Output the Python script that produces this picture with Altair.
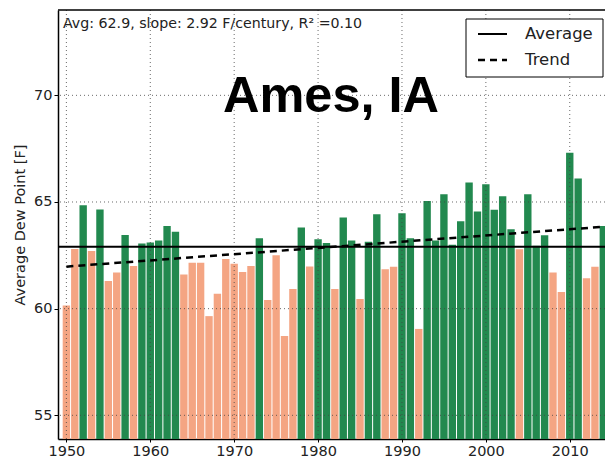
import altair as alt
import pandas as pd

years = list(range(1950, 2015))
dew_points = [
    60.15, 62.80, 64.85, 62.70, 64.65, 61.30, 61.70, 63.45, 62.00, 63.05,
    63.10, 63.20, 63.88, 63.60, 61.60, 62.15, 62.15, 59.65, 60.70, 62.33,
    62.10, 61.72, 62.00, 63.30, 60.40, 62.50, 58.72, 60.92, 63.80, 61.98,
    63.25, 63.08, 60.92, 64.27, 63.20, 60.45, 63.14, 64.42, 61.85, 61.96,
    64.47, 63.30, 59.05, 65.05, 63.20, 65.36, 63.00, 64.10, 65.91, 64.56,
    65.83, 64.64, 65.27, 63.72, 62.78, 65.36, 62.95, 63.44, 61.69, 60.78,
    67.31, 66.10, 61.42, 61.96, 63.88,
]
average = 62.9
trend_years = [1950, 2014]
trend_values = [61.97, 63.84]
x_ticks = [1950, 1960, 1970, 1980, 1990, 2000, 2010]
y_ticks = [55, 60, 65, 70]
x_domain = [1949, 2014.2]
y_domain = [53.89, 74.0]

GREEN = "#22894f"
SALMON = "#f4a583"

df = pd.DataFrame({"year": years, "value": dew_points})
df["x1"] = df["year"] - 0.44
df["x2"] = df["year"] + 0.44
df["base"] = y_domain[0]
df["cat"] = ["above" if v >= average else "below" for v in df["value"]]

xs = alt.Scale(domain=x_domain, nice=False, zero=False)
ys = alt.Scale(domain=y_domain, nice=False, zero=False)

bars = alt.Chart(df).mark_bar(clip=True).encode(
    x=alt.X("x1:Q", scale=xs,
            axis=alt.Axis(values=x_ticks, format="d", title=None, grid=False,
                          labelFontSize=14.5, labelColor="#222", tickSize=3,
                          labelPadding=2, domainColor="black", domainWidth=1.5,
                          tickColor="black", labelFont="DejaVu Sans")),
    x2="x2:Q",
    y=alt.Y("value:Q", scale=ys,
            axis=alt.Axis(values=y_ticks, title="Average Dew Point [F]", grid=False,
                          labelFontSize=14.5, labelColor="#222", tickSize=4,
                          labelPadding=2, titleFontSize=14.5, titleFontWeight="normal",
                          titleColor="#222", titlePadding=6, domainColor="black",
                          domainWidth=1.5, tickColor="black", labelFont="DejaVu Sans",
                          titleFont="DejaVu Sans")),
    y2="base:Q",
    color=alt.Color("cat:N", scale=alt.Scale(domain=["above", "below"], range=[GREEN, SALMON]),
                    legend=None),
)

gx = alt.Chart(pd.DataFrame({"t": x_ticks})).mark_rule(
    strokeDash=[1, 3], color="#444", strokeWidth=0.8).encode(
    x=alt.X("t:Q", scale=xs))
gy = alt.Chart(pd.DataFrame({"t": y_ticks})).mark_rule(
    strokeDash=[1, 3], color="#444", strokeWidth=0.8).encode(
    y=alt.Y("t:Q", scale=ys))

top_border = alt.Chart(pd.DataFrame({"k": [1]})).mark_rule(
    color="black", strokeWidth=1.5).encode(
    x=alt.value(0), x2=alt.value(547), y=alt.value(0))

avg_rule = alt.Chart(pd.DataFrame({"a": [average]})).mark_rule(
    color="black", strokeWidth=2).encode(y=alt.Y("a:Q", scale=ys))

trend = alt.Chart(pd.DataFrame({"year": trend_years, "v": trend_values})).mark_line(
    color="black", strokeWidth=2.5, strokeDash=[7, 5]).encode(
    x=alt.X("year:Q", scale=xs), y=alt.Y("v:Q", scale=ys))

title_txt = alt.Chart(pd.DataFrame({"t": ["Ames, IA"]})).mark_text(
    font="Liberation Sans", fontWeight="bold", fontSize=50.5, align="center",
    baseline="alphabetic", color="black").encode(
    text="t:N", x=alt.value(273), y=alt.value(102))

info_txt = alt.Chart(pd.DataFrame({"t": ["Avg: 62.9, slope: 2.92 F/century, R\u00b2 =0.10"]})).mark_text(
    font="DejaVu Sans", fontSize=14.2, align="left", baseline="middle", color="#222").encode(
    text="t:N", x=alt.value(5), y=alt.value(14))

leg_box = alt.Chart(pd.DataFrame({"k": [1]})).mark_rect(
    fill="white", stroke="black", strokeWidth=1).encode(
    x=alt.value(408), x2=alt.value(545), y=alt.value(9), y2=alt.value(67))
leg_avg = alt.Chart(pd.DataFrame({"k": [1]})).mark_rule(
    color="black", strokeWidth=2).encode(
    x=alt.value(420), x2=alt.value(449), y=alt.value(24))
leg_trend = alt.Chart(pd.DataFrame({"k": [1]})).mark_rule(
    color="black", strokeWidth=2.5, strokeDash=[7, 5]).encode(
    x=alt.value(420), x2=alt.value(449), y=alt.value(50))
leg_labels = alt.Chart(pd.DataFrame({"t": ["Average", "Trend"], "py": [24, 50]})).mark_text(
    font="DejaVu Sans", fontSize=16.5, align="left", baseline="middle", color="#222").encode(
    text="t:N", x=alt.value(467), y=alt.Y("py:Q", scale=None))

chart = alt.layer(
    bars, gx, gy, avg_rule, trend, top_border, title_txt, info_txt,
    leg_box, leg_avg, leg_trend, leg_labels
).properties(
    width=547, height=429,
    autosize=alt.AutoSizeParams(type="none"),
    padding={"left": 50, "top": 2, "right": 0, "bottom": 19},
    background="white",
).configure_view(strokeWidth=0)

chart.save("out.html", embed_options={"renderer": "svg", "actions": False})
